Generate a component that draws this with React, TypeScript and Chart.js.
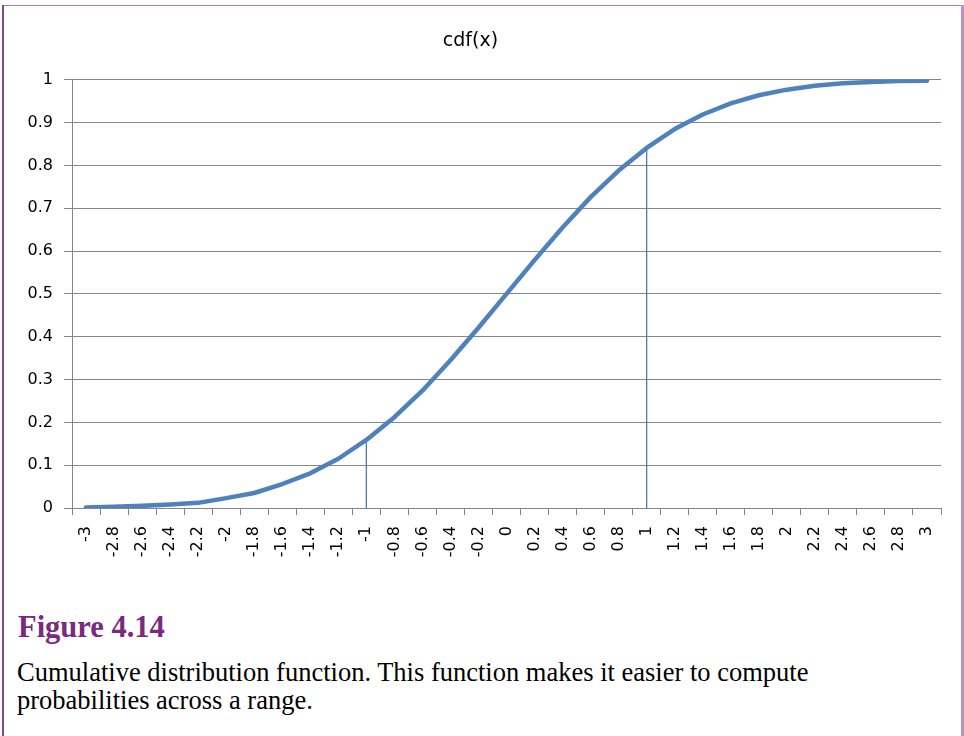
import React, { useEffect, useRef } from "react";
import { Chart, registerables } from "chart.js";

Chart.register(...registerables);

const xLabels: string[] = [
  "-3", "-2.8", "-2.6", "-2.4", "-2.2", "-2", "-1.8", "-1.6", "-1.4", "-1.2",
  "-1", "-0.8", "-0.6", "-0.4", "-0.2", "0", "0.2", "0.4", "0.6", "0.8",
  "1", "1.2", "1.4", "1.6", "1.8", "2", "2.2", "2.4", "2.6", "2.8", "3",
];

const cdfValues: number[] = [
  0.001, 0.003, 0.005, 0.008, 0.012, 0.023, 0.035, 0.056, 0.081, 0.115,
  0.159, 0.212, 0.274, 0.345, 0.421, 0.5, 0.579, 0.655, 0.726, 0.788,
  0.841, 0.885, 0.919, 0.945, 0.964, 0.977, 0.986, 0.992, 0.995, 0.997, 0.998,
];

const markerLabels: string[] = ["-1", "1"];

const chartTitle = "cdf(x)";
const figureTitle = "Figure 4.14";
const captionLines: string[] = [
  "Cumulative distribution function. This function makes it easier to compute",
  "probabilities across a range.",
];

const FONT = '"DejaVu Sans", sans-serif';
const GRID = "#868686";

export default function App() {
  const canvasRef = useRef<HTMLCanvasElement | null>(null);

  useEffect(() => {
    const canvas = canvasRef.current;
    if (!canvas) return;
    const markerSets = markerLabels.map((lab) => {
      const idx = xLabels.indexOf(lab);
      return {
        label: "x=" + lab,
        data: [
          { x: lab, y: 0 },
          { x: lab, y: cdfValues[idx] },
        ],
        borderColor: "#4a7ebb",
        borderWidth: 1.3,
        pointRadius: 0,
        fill: false,
      };
    });
    const chart = new Chart(canvas, {
      type: "line",
      data: {
        labels: xLabels,
        datasets: [
          {
            label: "cdf(x)",
            data: cdfValues,
            borderColor: "#4f81bd",
            borderWidth: 4.5,
            pointRadius: 0,
            fill: false,
            tension: 0,
            borderCapStyle: "round",
            borderJoinStyle: "round",
          },
          ...markerSets,
        ] as any,
      },
      options: {
        animation: false,
        responsive: false,
        maintainAspectRatio: false,
        layout: { padding: { left: 0, right: 23, top: 0, bottom: 0 } },
        plugins: {
          legend: { display: false },
          tooltip: { enabled: false },
          title: {
            display: true,
            text: chartTitle,
            color: "#000",
            font: { family: FONT, size: 19, weight: "normal" },
            padding: { top: 30, bottom: 27 },
          },
        },
        scales: {
          x: {
            type: "category",
            offset: true,
            grid: {
              offset: true,
              drawOnChartArea: false,
              drawTicks: true,
              tickLength: 7,
              color: GRID,
            },
            border: { display: true, color: GRID },
            ticks: {
              autoSkip: false,
              minRotation: 90,
              maxRotation: 90,
              padding: 11,
              color: "#000",
              font: { family: FONT, size: 16 },
            },
            afterFit: (scale: any) => {
              scale.height = 83;
            },
          },
          y: {
            min: 0,
            max: 1,
            ticks: {
              stepSize: 0.1,
              padding: 11,
              color: "#000",
              font: { family: FONT, size: 16 },
              callback: (v: any) => String(Math.round(Number(v) * 10) / 10),
            },
            grid: { color: GRID, tickLength: 8, lineWidth: 1 },
            border: { display: true, color: GRID },
            afterFit: (scale: any) => {
              scale.width = 72;
            },
          },
        },
      },
    });
    return () => chart.destroy();
  }, []);

  return (
    <div
      style={{
        position: "absolute",
        left: 0,
        top: 0,
        width: 964,
        height: 736,
        background: "#fff",
        overflow: "hidden",
      }}
    >
      <canvas
        ref={canvasRef}
        width={964}
        height={591}
        style={{ position: "absolute", left: 0, top: 0, width: 964, height: 591 }}
      />
      <div style={{ position: "absolute", left: 2, top: 5, width: 960, height: 1, background: "#a77fb8" }} />
      <div style={{ position: "absolute", left: 2, top: 5, width: 1.5, height: 731, background: "#7e4a90" }} />
      <div style={{ position: "absolute", left: 961, top: 5, width: 3, height: 731, background: "#b892c8" }} />
      <div
        style={{
          position: "absolute",
          left: 18,
          top: 612,
          fontFamily: '"Liberation Serif", serif',
          fontWeight: "bold",
          fontSize: 30.5,
          lineHeight: 1,
          color: "#792a81",
          whiteSpace: "nowrap",
        }}
      >
        {figureTitle}
      </div>
      <div
        style={{
          position: "absolute",
          left: 17,
          top: 659,
          fontFamily: '"Liberation Serif", serif',
          fontSize: 26.5,
          lineHeight: "27.5px",
          color: "#000",
          whiteSpace: "nowrap",
        }}
      >
        {captionLines.map((l, i) => (
          <div key={i}>{l}</div>
        ))}
      </div>
    </div>
  );
}
